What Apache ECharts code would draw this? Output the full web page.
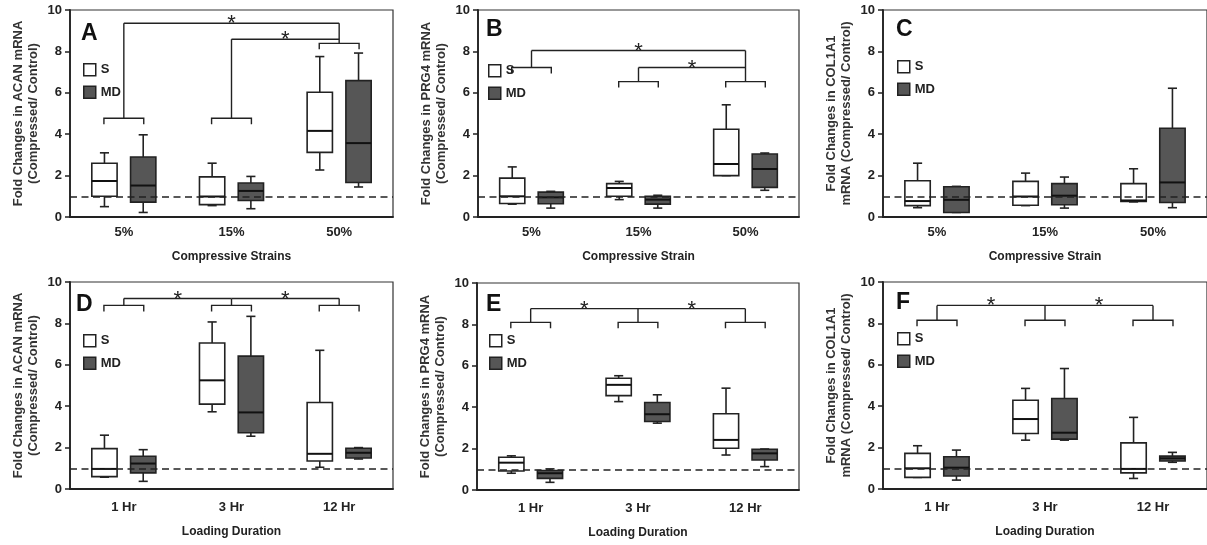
<!DOCTYPE html>
<html>
<head>
<meta charset="utf-8">
<script src="https://cdn.jsdelivr.net/npm/echarts@6/dist/echarts.min.js"></script>
<style>
html,body{margin:0;padding:0;background:#fff;}
#chart{width:1207px;height:545px;}
</style>
</head>
<body>
<div id="chart"></div>
<script>
// ---------- categories, ticks ----------
const strainCats = ['5%', '15%', '50%'];
const durationCats = ['1 Hr', '3 Hr', '12 Hr'];
const groupNames = ['S', 'MD'];
const yTicks = [0, 2, 4, 6, 8, 10];
const refLevel = 1;

// ---------- box values: [min, Q1, median, Q3, max] per category ----------
const acanStrainS  = [[0.50, 1.00, 1.74, 2.60, 3.10], [0.55, 0.60, 0.99, 1.94, 2.60], [2.27, 3.12, 4.16, 6.03, 7.75]];
const acanStrainMD = [[0.22, 0.72, 1.52, 2.90, 3.97], [0.40, 0.80, 1.26, 1.64, 1.96], [1.45, 1.67, 3.57, 6.59, 7.92]];
const prg4StrainS  = [[0.62, 0.65, 1.00, 1.88, 2.42], [0.84, 1.00, 1.40, 1.61, 1.72], [2.00, 2.00, 2.56, 4.24, 5.42]];
const prg4StrainMD = [[0.43, 0.64, 0.95, 1.20, 1.24], [0.43, 0.62, 0.84, 1.00, 1.05], [1.29, 1.43, 2.32, 3.04, 3.09]];
const col1StrainS  = [[0.45, 0.55, 0.77, 1.75, 2.60], [0.55, 0.57, 0.99, 1.72, 2.12], [0.73, 0.75, 0.80, 1.61, 2.33]];
const col1StrainMD = [[0.22, 0.22, 0.83, 1.46, 1.48], [0.43, 0.59, 1.03, 1.61, 1.93], [0.45, 0.70, 1.67, 4.29, 6.22]];
const acanTimeS    = [[0.57, 0.60, 0.97, 1.95, 2.60], [3.73, 4.10, 5.25, 7.05, 8.07], [1.05, 1.35, 1.70, 4.18, 6.70]];
const acanTimeMD   = [[0.37, 0.78, 1.23, 1.58, 1.90], [2.55, 2.72, 3.70, 6.42, 8.34], [1.45, 1.50, 1.75, 1.97, 2.00]];
const prg4TimeS    = [[0.81, 0.92, 1.32, 1.58, 1.65], [4.27, 4.56, 5.08, 5.40, 5.52], [1.69, 2.02, 2.42, 3.68, 4.92]];
const prg4TimeMD   = [[0.37, 0.56, 0.81, 0.94, 1.02], [3.23, 3.31, 3.66, 4.23, 4.60], [1.13, 1.45, 1.77, 1.97, 1.98]];
const col1TimeS    = [[0.56, 0.56, 1.00, 1.72, 2.09], [2.36, 2.68, 3.38, 4.29, 4.86], [0.51, 0.78, 0.97, 2.23, 3.46]];
const col1TimeMD   = [[0.43, 0.63, 1.03, 1.56, 1.88], [2.36, 2.41, 2.72, 4.37, 5.82], [1.29, 1.35, 1.48, 1.59, 1.77]];

// ---------- significance brackets ----------
// forks: [category, bracket level, stem top level]
const acanStrainForks = [[0, 4.77, 9.36], [1, 4.77, 8.59], [2, 8.39, 9.36]];
const prg4StrainForks = [[0, 7.22, 8.04], [1, 6.54, 7.22], [2, 6.54, 8.04]];
const col1StrainForks = [];
const acanTimeForks   = [[0, 8.87, 9.20], [1, 8.87, 9.20], [2, 8.87, 9.20]];
const prg4TimeForks   = [[0, 8.10, 8.76], [1, 8.10, 8.76], [2, 8.10, 8.76]];
const col1TimeForks   = [[0, 8.15, 8.87], [1, 8.15, 8.87], [2, 8.15, 8.87]];
// links: [from category, to category, level] with a star over the middle
const acanStrainLinks = [[0, 2, 9.36], [1, 2, 8.59]];
const prg4StrainLinks = [[0, 2, 8.04], [1, 2, 7.22]];
const col1StrainLinks = [];
const acanTimeLinks   = [[0, 1, 9.20], [1, 2, 9.20]];
const prg4TimeLinks   = [[0, 1, 8.76], [1, 2, 8.76]];
const col1TimeLinks   = [[0, 1, 8.87], [1, 2, 8.87]];

// ---------- text ----------
const acanName = ['Fold Changes in ACAN mRNA', '(Compressed/ Control)'];
const prg4Name = ['Fold Changes in PRG4 mRNA', '(Compressed/ Control)'];
const col1Name = ['Fold Changes in COL1A1', 'mRNA (Compressed/ Control)'];

// ---------- styles ----------
const FONT = '"Liberation Sans", Arial, Helvetica, sans-serif';
const INK = '#222';
const S_FILL = '#ffffff';
const MD_FILL = '#565656';
const BOX_OFFSET = 0.18;   // fraction of category band
const BOX_WIDTH = 0.235;   // fraction of category band
const CAP_RATIO = 0.36;
const FORK_HALF = 0.185;
const FORK_DROP = 6;

const panels = [
  {letter: 'A', cats: strainCats, s: acanStrainS, md: acanStrainMD, forks: acanStrainForks, links: acanStrainLinks,
   yName: acanName, xName: 'Compressive Strains',
   grid: {left: 70, top: 10, width: 323, height: 207}, letterPos: [81, 22], legendPos: [83, 63], row: 0},
  {letter: 'B', cats: strainCats, s: prg4StrainS, md: prg4StrainMD, forks: prg4StrainForks, links: prg4StrainLinks,
   yName: prg4Name, xName: 'Compressive Strain',
   grid: {left: 478, top: 10, width: 321, height: 207}, letterPos: [486, 18], legendPos: [488, 64], row: 0},
  {letter: 'C', cats: strainCats, s: col1StrainS, md: col1StrainMD, forks: col1StrainForks, links: col1StrainLinks,
   yName: col1Name, xName: 'Compressive Strain',
   grid: {left: 883, top: 10, width: 326, height: 207}, letterPos: [896, 18], legendPos: [897, 60], row: 0},
  {letter: 'D', cats: durationCats, s: acanTimeS, md: acanTimeMD, forks: acanTimeForks, links: acanTimeLinks,
   yName: acanName, xName: 'Loading Duration',
   grid: {left: 70, top: 282, width: 323, height: 207}, letterPos: [76, 293], legendPos: [83, 334], row: 1},
  {letter: 'E', cats: durationCats, s: prg4TimeS, md: prg4TimeMD, forks: prg4TimeForks, links: prg4TimeLinks,
   yName: prg4Name, xName: 'Loading Duration',
   grid: {left: 477, top: 283, width: 322, height: 207}, letterPos: [486, 293], legendPos: [489, 334], row: 1},
  {letter: 'F', cats: durationCats, s: col1TimeS, md: col1TimeMD, forks: col1TimeForks, links: col1TimeLinks,
   yName: col1Name, xName: 'Loading Duration',
   grid: {left: 883, top: 282, width: 326, height: 207}, letterPos: [896, 291], legendPos: [897, 332], row: 1}
];

function boxRenderer(sign, fill) {
  return function (params, api) {
    const ci = api.value(0);
    const band = api.size([1, 0])[0];
    const cx = api.coord([ci, 0])[0] + sign * band * BOX_OFFSET;
    const w = band * BOX_WIDTH;
    const y = k => api.coord([ci, api.value(k)])[1];
    const yMin = y(1), yQ1 = y(2), yMed = y(3), yQ3 = y(4), yMax = y(5);
    const cap = w * CAP_RATIO;
    const ls = {stroke: INK, lineWidth: 1.6};
    return {
      type: 'group',
      children: [
        {type: 'line', shape: {x1: cx, y1: yMax, x2: cx, y2: yQ3}, style: ls},
        {type: 'line', shape: {x1: cx, y1: yQ1, x2: cx, y2: yMin}, style: ls},
        {type: 'line', shape: {x1: cx - cap / 2, y1: yMax, x2: cx + cap / 2, y2: yMax}, style: ls},
        {type: 'line', shape: {x1: cx - cap / 2, y1: yMin, x2: cx + cap / 2, y2: yMin}, style: ls},
        {type: 'rect', shape: {x: cx - w / 2, y: yQ3, width: w, height: yQ1 - yQ3},
         style: {fill: fill, stroke: INK, lineWidth: 1.6}},
        {type: 'line', shape: {x1: cx - w / 2, y1: yMed, x2: cx + w / 2, y2: yMed},
         style: {stroke: '#111', lineWidth: 2}}
      ]
    };
  };
}

function forkRenderer(params, api) {
  const ci = api.value(0);
  const band = api.size([1, 0])[0];
  const p = api.coord([ci, api.value(1)]);
  const yTop = api.coord([ci, api.value(2)])[1];
  const half = band * FORK_HALF;
  const ls = {stroke: INK, lineWidth: 1.4, fill: null};
  return {
    type: 'group',
    children: [
      {type: 'polyline', shape: {points: [[p[0] - half, p[1] + FORK_DROP], [p[0] - half, p[1]],
        [p[0] + half, p[1]], [p[0] + half, p[1] + FORK_DROP]]}, style: ls},
      {type: 'line', shape: {x1: p[0], y1: p[1], x2: p[0], y2: yTop}, style: ls}
    ]
  };
}

function linkRenderer(params, api) {
  const p1 = api.coord([api.value(0), api.value(2)]);
  const p2 = api.coord([api.value(1), api.value(2)]);
  return {
    type: 'group',
    children: [
      {type: 'line', shape: {x1: p1[0], y1: p1[1], x2: p2[0], y2: p2[1]}, style: {stroke: INK, lineWidth: 1.4}},
      {type: 'text', style: {text: '*', x: (p1[0] + p2[0]) / 2, y: p1[1] + 1, align: 'center',
        verticalAlign: 'middle', fontSize: 22, fontFamily: FONT, fill: INK}}
    ]
  };
}

const grids = [], xAxes = [], yAxes = [], series = [], legends = [], titles = [];

panels.forEach((p, i) => {
  grids.push(Object.assign({show: true, borderColor: '#333', borderWidth: 1.2, backgroundColor: 'transparent'}, p.grid));
  xAxes.push({
    type: 'category', gridIndex: i, data: p.cats,
    axisLine: {lineStyle: {color: INK, width: 1.8}},
    axisTick: {alignWithLabel: true, length: 5, lineStyle: {color: INK, width: 1.5}},
    axisLabel: {fontSize: 13, fontWeight: 'bold', color: INK, fontFamily: FONT, margin: p.row === 0 ? 9 : 12},
    name: p.xName, nameLocation: 'middle', nameGap: p.row === 0 ? 34 : 37,
    nameTextStyle: {fontSize: 12, fontWeight: 'bold', color: INK, fontFamily: FONT}
  });
  yAxes.push({
    type: 'value', gridIndex: i, min: yTicks[0], max: yTicks[yTicks.length - 1],
    interval: yTicks[1] - yTicks[0],
    axisLine: {show: true, lineStyle: {color: INK, width: 1.8}},
    axisTick: {show: true, length: 5, lineStyle: {color: INK, width: 1.5}},
    splitLine: {show: false},
    axisLabel: {fontSize: 13, fontWeight: 'bold', color: INK, fontFamily: FONT, margin: 8},
    name: p.yName.join('\n'), nameLocation: 'middle', nameRotate: 90, nameGap: 29,
    nameTextStyle: {fontSize: 13, fontWeight: 'bold', color: '#333', fontFamily: FONT, lineHeight: 15}
  });
  const toData = arr => arr.map((v, ci) => [ci].concat(v));
  series.push({
    type: 'custom', name: groupNames[0], xAxisIndex: i, yAxisIndex: i,
    renderItem: boxRenderer(-1, S_FILL), data: toData(p.s),
    encode: {x: 0, y: [1, 2, 3, 4, 5]},
    itemStyle: {color: S_FILL, borderColor: INK},
    markLine: {silent: true, symbol: 'none', label: {show: false}, z: 5,
      lineStyle: {color: INK, type: [7, 4.5], width: 1.6}, data: [{yAxis: refLevel}]}
  });
  series.push({
    type: 'custom', name: groupNames[1], xAxisIndex: i, yAxisIndex: i,
    renderItem: boxRenderer(1, MD_FILL), data: toData(p.md),
    encode: {x: 0, y: [1, 2, 3, 4, 5]},
    itemStyle: {color: MD_FILL, borderColor: INK}
  });
  if (p.forks.length) {
    series.push({
      type: 'custom', name: 'forks' + i, xAxisIndex: i, yAxisIndex: i, silent: true,
      renderItem: forkRenderer, data: p.forks, encode: {x: 0, y: [1, 2]}
    });
  }
  if (p.links.length) {
    series.push({
      type: 'custom', name: 'links' + i, xAxisIndex: i, yAxisIndex: i, silent: true,
      renderItem: linkRenderer, data: p.links, encode: {x: [0, 1], y: 2}
    });
  }
  legends.push({
    left: p.legendPos[0], top: p.legendPos[1], orient: 'vertical', padding: 0,
    itemWidth: 12, itemHeight: 12, itemGap: 9, selectedMode: false, icon: 'rect',
    textStyle: {fontSize: 13, fontWeight: 'bold', color: INK, fontFamily: FONT},
    data: [
      {name: groupNames[0], itemStyle: {color: S_FILL, borderColor: INK, borderWidth: 1.5}},
      {name: groupNames[1], itemStyle: {color: MD_FILL, borderColor: INK, borderWidth: 1.5}}
    ]
  });
  titles.push({
    text: p.letter, left: p.letterPos[0], top: p.letterPos[1], padding: 0,
    textStyle: {fontSize: 23, fontWeight: 'bold', color: '#111', fontFamily: FONT}
  });
});

const chart = echarts.init(document.getElementById('chart'), null, {renderer: 'canvas'});
chart.setOption({
  backgroundColor: '#fff',
  animation: false,
  title: titles,
  legend: legends,
  grid: grids,
  xAxis: xAxes,
  yAxis: yAxes,
  series: series
});
</script>
</body>
</html>
